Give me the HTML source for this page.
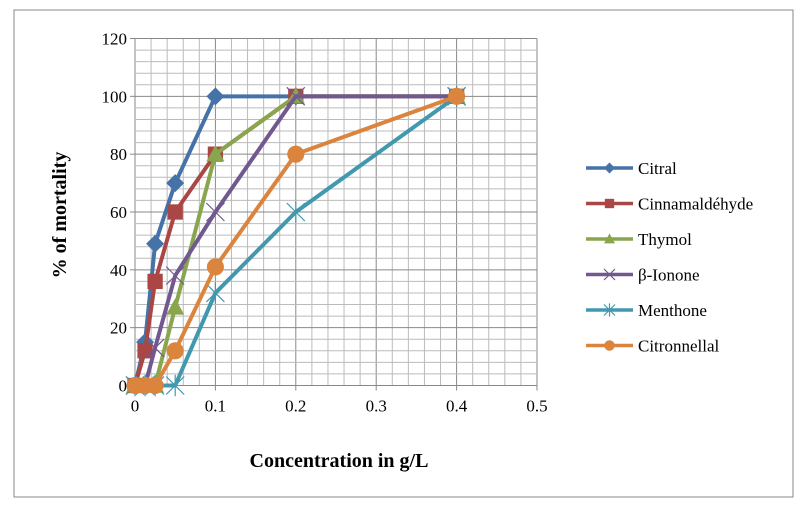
<!DOCTYPE html>
<html><head><meta charset="utf-8"><style>
body{margin:0;background:#fff}
svg{display:block;font-family:"Liberation Serif",serif}
</style></head><body>
<svg id="chart" width="805" height="512">
<rect x="14" y="10" width="779" height="487" fill="#fff" stroke="#888" stroke-width="1"/>
<g id="grid"></g>
<g id="ticks"></g>
<g id="series"></g>
<g id="legend"></g>
<text x="339" y="467" text-anchor="middle" font-size="20" font-weight="bold">Concentration in g/L</text>
<text transform="translate(66,215) rotate(-90)" text-anchor="middle" font-size="20" font-weight="bold">% of mortality</text>
</svg>
<script>
const xValues=[0,0.0125,0.025,0.05,0.1,0.2,0.4];
const seriesNames=["Citral","Cinnamaldéhyde","Thymol","β-Ionone","Menthone","Citronnellal"];
const citral=[0,15,49,70,100,100,100];
const cinnamaldehyde=[0,12,36,60,80,100,100];
const thymol=[0,0,0,27,80,100,100];
const ionone=[0,0,13,38,60,100,100];
const menthone=[0,0,0,0,32,60,100];
const citronnellal=[0,0,0,12,41,80,100];
const xTicks=[0,0.1,0.2,0.3,0.4,0.5];
const yTicks=[0,20,40,60,80,100,120];
const allSeries=[citral,cinnamaldehyde,thymol,ionone,menthone,citronnellal];
const colors=["#4572a7","#aa4643","#89a54e","#71588f","#4198af","#db843d"];
const markers=["diamond","square","triangle","x","star","circle"];
const NS="http://www.w3.org/2000/svg";
const L=135,R=537,T=38.5,B=385.5;
const sx=v=>L+(v/0.5)*(R-L);
const sy=v=>B-(v/120)*(B-T);
function mk(tag,attrs,parent){const e=document.createElementNS(NS,tag);for(const k in attrs)e.setAttribute(k,attrs[k]);parent.appendChild(e);return e;}
const grid=document.getElementById('grid');
for(let i=0;i<=25;i++){const x=sx(i*0.02);const l=mk('line',{x1:x,x2:x,y1:T,y2:B,stroke:i%5==0?'#888':'#bbb','stroke-width':1},grid);

}
for(let i=0;i<=30;i++){const y=sy(i*4);const l=mk('line',{x1:L,x2:R,y1:y,y2:y,stroke:i%5==0?'#888':'#bbb','stroke-width':1},grid);

}
const ticks=document.getElementById('ticks');
xTicks.forEach(v=>{const t=mk('text',{x:sx(v),y:B+26,'text-anchor':'middle','font-size':17},ticks);t.textContent=String(v);


const m=mk('line',{x1:sx(v),x2:sx(v),y1:B,y2:B+5,stroke:'#888'},ticks);

});
yTicks.forEach(v=>{const t=mk('text',{x:L-8,y:sy(v)+6,'text-anchor':'end','font-size':17},ticks);t.textContent=String(v);


const m=mk('line',{x1:L-5,x2:L,y1:sy(v),y2:sy(v),stroke:'#888'},ticks);

});
function marker(type,x,y,c,s,parent){let e;
if(type=='diamond')e=mk('polygon',{points:`${x},${y-s} ${x+s},${y} ${x},${y+s} ${x-s},${y}`,fill:c},parent);
else if(type=='square')e=mk('rect',{x:x-s*0.85,y:y-s*0.85,width:s*1.7,height:s*1.7,fill:c},parent);
else if(type=='triangle')e=mk('polygon',{points:`${x},${y-s} ${x+s},${y+s*0.8} ${x-s},${y+s*0.8}`,fill:c},parent);
else if(type=='circle')e=mk('circle',{cx:x,cy:y,r:s*0.95,fill:c},parent);
else if(type=='x')e=mk('path',{d:`M${x-s} ${y-s}L${x+s} ${y+s}M${x-s} ${y+s}L${x+s} ${y-s}`,stroke:c,'stroke-width':1.2,fill:'none'},parent);
else e=mk('path',{d:`M${x-s} ${y-s}L${x+s} ${y+s}M${x-s} ${y+s}L${x+s} ${y-s}M${x} ${y-s*1.2}L${x} ${y+s*1.2}`,stroke:c,'stroke-width':1.2,fill:'none'},parent);
return e;}
const sg=document.getElementById('series');
allSeries.forEach((vals,si)=>{const g=mk('g',{},sg);


const pts=vals.map((v,i)=>sx(xValues[i])+','+sy(v)).join(' ');
const pl=mk('polyline',{points:pts,fill:'none',stroke:colors[si],'stroke-width':4,'stroke-linejoin':'round'},g);


vals.forEach((v,i)=>{const m=marker(markers[si],sx(xValues[i]),sy(v),colors[si],9,g);

});});
const lg=document.getElementById('legend');
seriesNames.forEach((n,i)=>{const y=168+i*35.5;const g=mk('g',{},lg);


mk('line',{x1:586,x2:633,y1:y,y2:y,stroke:colors[i],'stroke-width':3.5},g);
marker(markers[i],609.5,y,colors[i],5.5,g);
const t=mk('text',{x:638,y:y+6,'font-size':17},g);t.textContent=n;});
</script>
</body></html>
